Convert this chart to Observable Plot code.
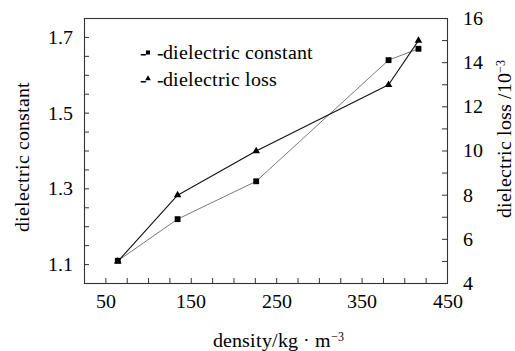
<!DOCTYPE html>
<html>
<head>
<meta charset="utf-8">
<script src="https://cdn.jsdelivr.net/npm/d3@7"></script>
<script src="https://cdn.jsdelivr.net/npm/@observablehq/plot@0.6"></script>
<style>
  @font-face { font-family: "ChartSerif"; src: local("Liberation Serif"), local("LiberationSerif"), local("Liberation Serif Regular"), local("LiberationSerif-Regular"), local("Times New Roman"), local("Tinos"), local("DejaVu Serif"); }
  html, body { margin: 0; padding: 0; background: #fff; font-family: "ChartSerif", "Liberation Serif", serif; }
</style>
</head>
<body>
<div id="chart"></div>
<script>
// Data
const densities = [64, 134, 226, 381, 416];
const dielectricConstant = [1.11, 1.22, 1.32, 1.64, 1.67];
const dielectricLoss = [5, 8, 10, 13, 15];

// Tick values
const xTickLabels = [50, 150, 250, 350, 450];
const xTicks = d3.range(50, 450, 25);
const yLeftTickLabels = [1.1, 1.3, 1.5, 1.7];
const yLeftTicks = d3.range(1.1, 1.751, 0.05).map(v => +v.toFixed(2));
const yRightTickLabels = [4, 6, 8, 10, 12, 14, 16];
const yRightTicks = d3.range(5, 16, 1);

// Texts ("^" marks a superscript)
const xLabel = "density/kg \u00B7 m^\u22123";
const yLeftLabel = "dielectric constant";
const yRightLabel = "dielectric loss /10^\u22123";
const legendConstant = "dielectric constant";
const legendLoss = "dielectric loss";

// scales
const yDomain = [1.05, 1.75];
const lossDomain = [4, 16];
const lossToY = d3.scaleLinear().domain(lossDomain).range(yDomain);

const constRows = densities.map((d, i) => ({x: d, y: dielectricConstant[i]}));
const lossRows = densities.map((d, i) => ({x: d, y: lossToY(dielectricLoss[i])}));

const W = 515, H = 351, mL = 84, mR = 68, mT = 18, mB = 68;
const innerW = W - mL - mR, innerH = H - mT - mB, tick = 5;
const FAMILY = "ChartSerif, 'Liberation Serif', 'Times New Roman', Tinos, 'DejaVu Serif', serif";
const F = {fontFamily: FAMILY, fontSize: 20};

const chart = Plot.plot({
  width: W,
  height: H,
  marginLeft: mL,
  marginRight: mR,
  marginTop: mT,
  marginBottom: mB,
  style: {fontSize: "20px", fontFamily: FAMILY, background: "#fff"},
  x: {domain: [25, 450]},
  y: {domain: yDomain},
  marks: [
    Plot.frame({stroke: "#333", strokeWidth: 1.1}),
    // inward ticks
    Plot.ruleX(xTicks, {x: d => d, insetTop: innerH - tick, stroke: "#333"}),
    Plot.ruleY(yLeftTicks, {y: d => d, insetRight: innerW - tick, stroke: "#333"}),
    Plot.ruleY(yRightTicks.map(v => lossToY(v)), {y: d => d, insetLeft: innerW - tick, stroke: "#333"}),
    // tick labels
    Plot.axisX({ticks: xTickLabels, tickSize: 0, tickPadding: 10, label: null, ...F}),
    Plot.axisY({ticks: yLeftTickLabels, tickSize: 0, tickPadding: 12, tickFormat: d => d.toFixed(1), label: null, ...F}),
    Plot.axisY({anchor: "right", ticks: yRightTickLabels.map(v => lossToY(v)), tickSize: 0, tickPadding: 15,
      tickFormat: v => String(Math.round(lossToY.invert(v))), textAnchor: "start", label: null, ...F}),
    // axis titles
    Plot.text([xLabel], {frameAnchor: "bottom-left", text: d => d, dx: 128, dy: 57, textAnchor: "start", lineAnchor: "middle", ...F}),
    Plot.text([yLeftLabel], {frameAnchor: "left", text: d => d, rotate: -90, dx: -62, dy: 6, textAnchor: "middle", lineAnchor: "middle", ...F}),
    Plot.text([yRightLabel], {frameAnchor: "right", text: d => d, rotate: -90, dx: 57, dy: -12, textAnchor: "middle", lineAnchor: "middle", ...F}),
    // lines
    Plot.line(constRows, {x: "x", y: "y", stroke: "#555", strokeWidth: 0.8}),
    Plot.line(lossRows, {x: "x", y: "y", stroke: "#111", strokeWidth: 1.1}),
    Plot.dot(constRows, {x: "x", y: "y", symbol: "square", r: 3.3, fill: "#000"}),
    Plot.dot(lossRows, {x: "x", y: "y", symbol: "triangle", r: 2.8, fill: "#000"}),
    // legend
    Plot.text(["-"], {frameAnchor: "top-left", text: d => d, dx: 55, dy: 34, lineAnchor: "middle", ...F}),
    Plot.text(["-"], {frameAnchor: "top-left", text: d => d, dx: 72, dy: 34, lineAnchor: "middle", ...F}),
    Plot.dot([legendConstant], {frameAnchor: "top-left", dx: 63.5, dy: 34, symbol: "square", r: 2.3, fill: "#000"}),
    Plot.text([legendConstant], {frameAnchor: "top-left", text: d => d, dx: 78, dy: 34, textAnchor: "start", lineAnchor: "middle", ...F}),
    Plot.text(["-"], {frameAnchor: "top-left", text: d => d, dx: 55, dy: 61, lineAnchor: "middle", ...F}),
    Plot.text(["-"], {frameAnchor: "top-left", text: d => d, dx: 72, dy: 61, lineAnchor: "middle", ...F}),
    Plot.dot([legendLoss], {frameAnchor: "top-left", dx: 63.5, dy: 60, symbol: "triangle", r: 2.1, fill: "#000"}),
    Plot.text([legendLoss], {frameAnchor: "top-left", text: d => d, dx: 78, dy: 61, textAnchor: "start", lineAnchor: "middle", ...F}),
  ]
});

// turn "^x" into superscripts
d3.select(chart).selectAll("text").each(function() {
  const t = this.textContent;
  const k = t.indexOf("^");
  if (k < 0) return;
  const sel = d3.select(this);
  sel.text(null);
  sel.append("tspan").text(t.slice(0, k));
  sel.append("tspan").attr("dy", "-0.45em").attr("font-size", "0.62em").text(t.slice(k + 1));
});

// force the serif family on every text element
chart.setAttribute("font-family", FAMILY);
d3.select(chart).selectAll("g, text, tspan").each(function() {
  this.setAttribute("font-family", FAMILY);
  this.style.setProperty("font-family", FAMILY, "important");
});
document.getElementById("chart").append(chart);
</script>
</body>
</html>
